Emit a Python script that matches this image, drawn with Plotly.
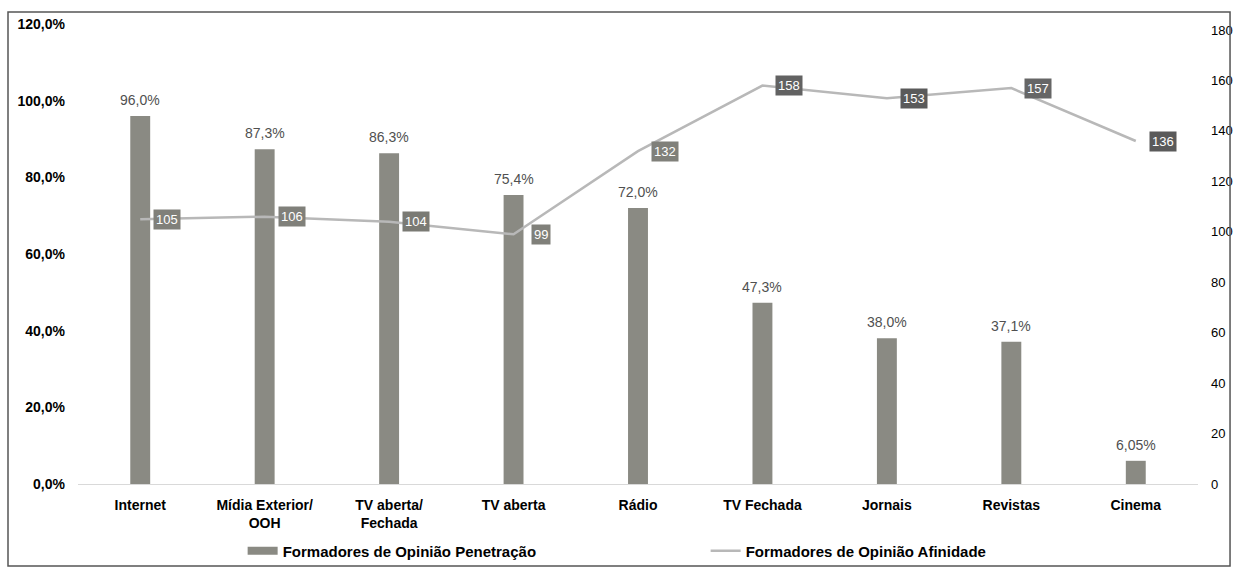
import plotly.graph_objects as go

categories = ["Internet", "Mídia Exterior/<br>OOH", "TV aberta/<br>Fechada", "TV aberta",
              "Rádio", "TV Fechada", "Jornais", "Revistas", "Cinema"]
penetracao = [96.0, 87.3, 86.3, 75.4, 72.0, 47.3, 38.0, 37.1, 6.05]
penetracao_labels = ["96,0%", "87,3%", "86,3%", "75,4%", "72,0%", "47,3%", "38,0%", "37,1%", "6,05%"]
afinidade = [105, 106, 104, 99, 132, 158, 153, 157, 136]
left_ticks = [0, 20, 40, 60, 80, 100, 120]
left_tick_labels = ["0,0%", "20,0%", "40,0%", "60,0%", "80,0%", "100,0%", "120,0%"]
right_ticks = [0, 20, 40, 60, 80, 100, 120, 140, 160, 180]

# label box shades (scan appearance)
box_colors = ["#80807a", "#80807a", "#7a7a74", "#80807a", "#80807a",
              "#626262", "#5a5a5a", "#666666", "#5a5a5a"]

FONT = "Liberation Sans, Arial, sans-serif"
BAR_COLOR = "#8a8a83"
LINE_COLOR = "#b8b8b8"

fig = go.Figure()
fig.add_trace(go.Bar(
    x=categories, y=penetracao, name="Formadores de Opinião Penetração",
    marker=dict(color=BAR_COLOR, line=dict(width=0)),
    width=0.16, yaxis="y", showlegend=False, hoverinfo="x+y",
))
# legend entry for bars drawn as a wide rectangle
fig.add_trace(go.Scatter(
    x=[None], y=[None], mode="lines", name="Formadores de Opinião Penetração",
    line=dict(color=BAR_COLOR, width=8), yaxis="y",
))
fig.add_trace(go.Scatter(
    x=categories, y=afinidade, name="Formadores de Opinião Afinidade",
    mode="lines", line=dict(color=LINE_COLOR, width=2.5), yaxis="y2",
))

for c, v, t in zip(categories, penetracao, penetracao_labels):
    fig.add_annotation(
        x=c, y=v, xref="x", yref="y", text=t, showarrow=False,
        yanchor="bottom", yshift=6,
        font=dict(family=FONT, size=14, color="#505050"),
    )

for c, v, bc in zip(categories, afinidade, box_colors):
    fig.add_annotation(
        x=c, y=v, xref="x", yref="y2", text=str(v), showarrow=False,
        xshift=27, bgcolor=bc, borderpad=2,
        font=dict(family=FONT, size=13, color="white"),
    )

# outer border
fig.add_shape(type="rect", xref="paper", yref="paper",
              x0=-0.0625, x1=1.0286, y0=-0.178, y1=1.026,
              line=dict(color="#555555", width=1.5))

fig.update_layout(
    width=1237, height=574,
    margin=dict(l=78, r=39, t=24, b=90, autoexpand=False),
    paper_bgcolor="white", plot_bgcolor="white",
    font=dict(family=FONT, size=12, color="black"),
    showlegend=True,
    legend=dict(orientation="h", x=0.147, xanchor="left", y=-0.1457, yanchor="middle",
                entrywidth=418, entrywidthmode="pixels", traceorder="normal",
                font=dict(family=FONT, size=15, color="black", weight="bold"),
                bgcolor="rgba(0,0,0,0)"),
    xaxis=dict(showgrid=False, showline=True, linecolor="#d9d9d9", linewidth=1,
               ticks="", automargin=False, ticklabelstandoff=8,
               tickfont=dict(family=FONT, size=14, color="black", weight="bold"),
               range=[-0.5, 8.5]),
    yaxis=dict(range=[0, 120], tickvals=left_ticks, ticktext=left_tick_labels,
               showgrid=False, zeroline=False, showline=False, ticks="", automargin=False,
               ticklabelstandoff=12,
               tickfont=dict(family=FONT, size=14, color="black", weight="bold")),
    yaxis2=dict(range=[0, 182.4], tickvals=right_ticks, overlaying="y", side="right",
                showgrid=False, zeroline=False, showline=False, ticks="", automargin=False,
                ticklabelstandoff=12,
                tickfont=dict(family=FONT, size=13, color="black")),
)

fig.write_html("out.html", config={"displayModeBar": False},
               post_script="document.body.style.margin='0px';")
